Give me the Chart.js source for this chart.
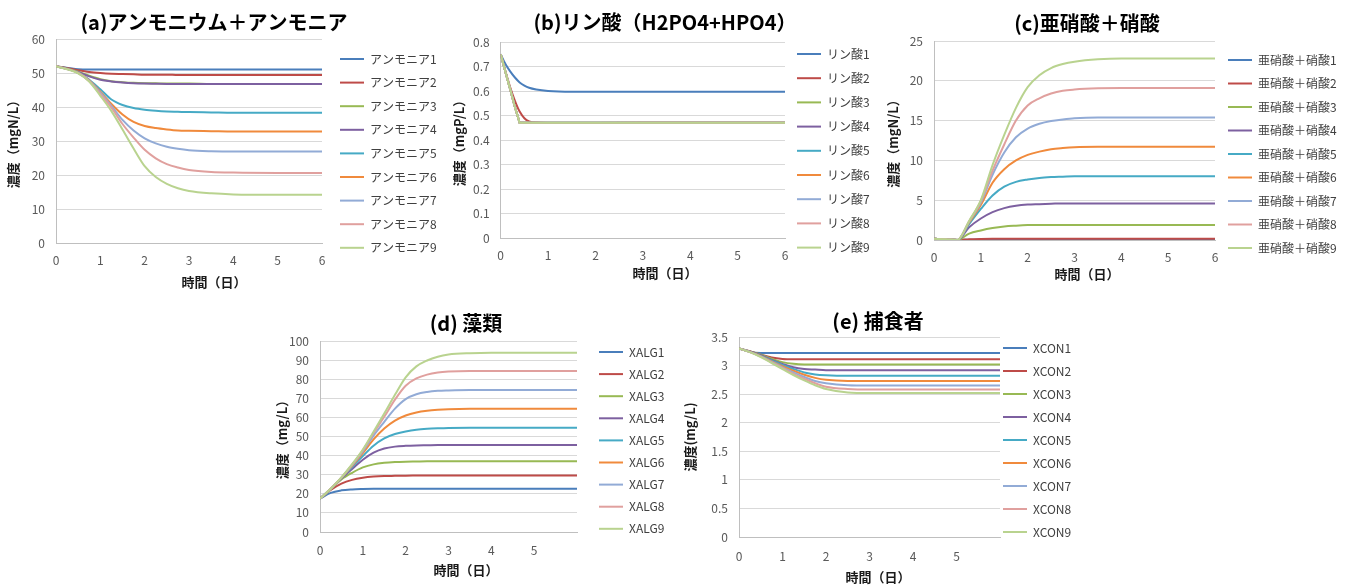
<!DOCTYPE html>
<html lang="ja">
<head>
<meta charset="utf-8">
<title>水質シミュレーション結果</title>
<script src="https://cdn.jsdelivr.net/npm/chart.js@4.4.1/dist/chart.umd.min.js"></script>
<style>
  html, body { margin: 0; padding: 0; background: #fff; }
  body { width: 1350px; height: 585px; position: relative; overflow: hidden; }
  canvas { position: absolute; }
</style>
</head>
<body>
<canvas id="chartA" width="454" height="295" style="left:-13px;top:0px"></canvas>
<canvas id="chartB" width="434" height="295" style="left:445px;top:0px"></canvas>
<canvas id="chartC" width="508" height="295" style="left:833px;top:0px"></canvas>
<canvas id="chartD" width="408" height="285" style="left:262px;top:300px"></canvas>
<canvas id="chartE" width="394" height="285" style="left:681px;top:300px"></canvas>
<script>
// ---------------------------------------------
// データ
// ---------------------------------------------
const xTicksFull  = ['0', '1', '2', '3', '4', '5', '6'];
const xTicksShort = ['0', '1', '2', '3', '4', '5', ''];

// (a) アンモニウム＋アンモニア
const timeA = [0, 0.5, 0.75, 1, 1.25, 1.5, 1.75, 2, 2.25, 2.5, 2.75, 3, 3.5, 4, 5, 6];
const ammoniaLabels = ['アンモニア1', 'アンモニア2', 'アンモニア3', 'アンモニア4', 'アンモニア5',
                       'アンモニア6', 'アンモニア7', 'アンモニア8', 'アンモニア9'];
const ammonia = [
  [52, 51.1, 51.0, 51.0, 51.0, 51.0, 51.0, 51.0, 51.0, 51.0, 51.0, 51.0, 51.0, 51.0, 51.0, 51.0],
  [52, 50.8, 50.3, 50.0, 49.8, 49.7, 49.6, 49.5, 49.5, 49.5, 49.4, 49.4, 49.4, 49.4, 49.4, 49.4],
  [52, 50.4, 49.2, 48.2, 47.6, 47.3, 47.1, 47.0, 46.95, 46.9, 46.9, 46.9, 46.8, 46.8, 46.8, 46.8],
  [52, 50.3, 49.0, 48.0, 47.5, 47.2, 47.0, 46.9, 46.85, 46.8, 46.8, 46.8, 46.8, 46.8, 46.8, 46.8],
  [52, 50.2, 48.0, 45.2, 42.2, 40.6, 39.7, 39.2, 38.9, 38.7, 38.6, 38.5, 38.4, 38.3, 38.3, 38.3],
  [52, 50.1, 47.8, 44.5, 40.9, 37.8, 35.6, 34.4, 33.8, 33.4, 33.1, 33.0, 32.9, 32.8, 32.8, 32.8],
  [52, 50.0, 47.7, 44.2, 40.3, 36.2, 33.1, 30.8, 29.3, 28.3, 27.7, 27.3, 27.0, 26.9, 26.9, 26.9],
  [52, 50.0, 47.6, 43.8, 39.8, 35.0, 31.0, 27.4, 24.9, 23.2, 22.2, 21.5, 20.9, 20.7, 20.6, 20.6],
  [52, 49.9, 47.5, 43.3, 38.8, 33.4, 27.8, 22.6, 19.4, 17.4, 16.1, 15.3, 14.6, 14.3, 14.2, 14.2]
];
const ammoniaYTicks = ['0', '10', '20', '30', '40', '50', '60'];

// (b) リン酸
const timeB = [0, 0.1, 0.2, 0.3, 0.4, 0.5, 0.6, 0.75, 1, 1.5, 2, 3, 4, 5, 6];
const phosphateLabels = ['リン酸1', 'リン酸2', 'リン酸3', 'リン酸4', 'リン酸5',
                         'リン酸6', 'リン酸7', 'リン酸8', 'リン酸9'];
const phosphate = [
  [0.75, 0.71, 0.68, 0.655, 0.635, 0.622, 0.613, 0.606, 0.600, 0.597, 0.597, 0.597, 0.597, 0.597, 0.597],
  [0.75, 0.68, 0.615, 0.560, 0.516, 0.489, 0.476, 0.471, 0.470, 0.470, 0.470, 0.470, 0.470, 0.470, 0.470],
  [0.75, 0.678, 0.607, 0.535, 0.470, 0.470, 0.470, 0.470, 0.470, 0.470, 0.470, 0.470, 0.470, 0.470, 0.470],
  [0.75, 0.678, 0.607, 0.535, 0.470, 0.470, 0.470, 0.470, 0.469, 0.469, 0.469, 0.470, 0.470, 0.470, 0.470],
  [0.75, 0.678, 0.607, 0.535, 0.470, 0.470, 0.470, 0.470, 0.470, 0.470, 0.470, 0.470, 0.470, 0.470, 0.470],
  [0.75, 0.678, 0.607, 0.535, 0.470, 0.470, 0.470, 0.470, 0.469, 0.469, 0.469, 0.470, 0.470, 0.470, 0.470],
  [0.75, 0.678, 0.607, 0.535, 0.470, 0.470, 0.470, 0.470, 0.470, 0.470, 0.470, 0.470, 0.470, 0.470, 0.470],
  [0.75, 0.678, 0.607, 0.535, 0.470, 0.470, 0.470, 0.470, 0.470, 0.470, 0.470, 0.470, 0.470, 0.470, 0.470],
  [0.75, 0.678, 0.607, 0.535, 0.470, 0.470, 0.470, 0.470, 0.470, 0.470, 0.470, 0.470, 0.470, 0.470, 0.470]
];
const phosphateYTicks = ['0', '0.1', '0.2', '0.3', '0.4', '0.5', '0.6', '0.7', '0.8'];

// (c) 亜硝酸＋硝酸
const timeC = [0, 0.25, 0.5, 0.75, 1, 1.25, 1.5, 1.75, 2, 2.25, 2.5, 2.75, 3, 3.5, 4, 5, 6];
const nitrateLabels = ['亜硝酸＋硝酸1', '亜硝酸＋硝酸2', '亜硝酸＋硝酸3', '亜硝酸＋硝酸4', '亜硝酸＋硝酸5',
                       '亜硝酸＋硝酸6', '亜硝酸＋硝酸7', '亜硝酸＋硝酸8', '亜硝酸＋硝酸9'];
const nitrate = [
  [0.15, 0.1, 0, 0.03, 0.05, 0.05, 0.05, 0.05, 0.05, 0.05, 0.05, 0.05, 0.05, 0.05, 0.05, 0.05, 0.05],
  [0.15, 0.1, 0, 0.10, 0.14, 0.15, 0.15, 0.15, 0.15, 0.15, 0.15, 0.15, 0.15, 0.15, 0.15, 0.15, 0.15],
  [0.15, 0.1, 0, 0.8, 1.2, 1.5, 1.7, 1.8, 1.87, 1.89, 1.9, 1.9, 1.9, 1.9, 1.9, 1.9, 1.9],
  [0.15, 0.1, 0, 1.6, 2.7, 3.5, 4.0, 4.3, 4.45, 4.5, 4.55, 4.6, 4.6, 4.6, 4.6, 4.6, 4.6],
  [0.15, 0.1, 0, 2.0, 3.9, 5.6, 6.7, 7.3, 7.6, 7.8, 7.9, 7.95, 8.0, 8.0, 8.0, 8.0, 8.0],
  [0.15, 0.1, 0, 2.2, 4.4, 7.2, 8.9, 10.0, 10.7, 11.1, 11.4, 11.55, 11.65, 11.7, 11.7, 11.7, 11.7],
  [0.15, 0.1, 0, 2.3, 4.7, 8.2, 11.0, 12.9, 14.0, 14.6, 14.95, 15.15, 15.3, 15.4, 15.4, 15.4, 15.4],
  [0.15, 0.1, 0, 2.35, 4.9, 8.7, 12.0, 15.0, 16.9, 17.8, 18.4, 18.75, 18.9, 19.05, 19.1, 19.1, 19.1],
  [0.15, 0.1, 0, 2.4, 5.0, 9.4, 13.2, 16.6, 19.2, 20.7, 21.6, 22.1, 22.4, 22.7, 22.8, 22.8, 22.8]
];
const nitrateYTicks = ['0', '5', '10', '15', '20', '25'];

// (d) 藻類
const timeD = [0, 0.25, 0.5, 0.75, 1, 1.25, 1.5, 1.75, 2, 2.25, 2.5, 2.75, 3, 3.5, 4, 5, 6];
const algaeLabels = ['XALG1', 'XALG2', 'XALG3', 'XALG4', 'XALG5', 'XALG6', 'XALG7', 'XALG8', 'XALG9'];
const algae = [
  [17.5, 20.5, 21.8, 22.3, 22.5, 22.6, 22.6, 22.6, 22.6, 22.6, 22.6, 22.6, 22.6, 22.6, 22.6, 22.6, 22.6],
  [17.5, 22.0, 25.3, 27.3, 28.4, 29.0, 29.3, 29.4, 29.5, 29.55, 29.6, 29.6, 29.6, 29.6, 29.6, 29.6, 29.6],
  [17.5, 22.4, 27.5, 31.0, 33.8, 35.4, 36.2, 36.6, 36.8, 36.9, 37.0, 37.05, 37.1, 37.1, 37.1, 37.1, 37.1],
  [17.5, 22.5, 28.0, 33.0, 37.8, 41.5, 43.7, 44.7, 45.1, 45.3, 45.4, 45.5, 45.5, 45.5, 45.5, 45.5, 45.5],
  [17.5, 22.6, 28.3, 34.0, 39.8, 45.2, 49.0, 51.3, 52.6, 53.5, 54.0, 54.3, 54.5, 54.6, 54.6, 54.6, 54.6],
  [17.5, 22.6, 28.4, 34.6, 41.3, 48.5, 54.2, 58.3, 61.0, 62.6, 63.5, 64.0, 64.3, 64.5, 64.5, 64.5, 64.5],
  [17.5, 22.6, 28.5, 35.0, 42.2, 50.5, 57.7, 64.6, 69.6, 72.1, 73.3, 73.9, 74.1, 74.3, 74.3, 74.3, 74.3],
  [17.5, 22.6, 28.5, 35.3, 42.8, 51.8, 60.3, 69.3, 76.6, 80.4, 82.4, 83.5, 84.0, 84.3, 84.3, 84.3, 84.3],
  [17.5, 22.6, 28.6, 35.5, 43.2, 52.5, 62.0, 71.8, 81.0, 86.7, 89.8, 91.8, 92.9, 93.6, 93.8, 93.8, 93.8]
];
const algaeYTicks = ['0', '10', '20', '30', '40', '50', '60', '70', '80', '90', '100'];

// (e) 捕食者
const timeE = [0, 0.25, 0.5, 0.75, 1, 1.25, 1.5, 1.75, 2, 2.5, 3, 4, 5, 6];
const consumerLabels = ['XCON1', 'XCON2', 'XCON3', 'XCON4', 'XCON5', 'XCON6', 'XCON7', 'XCON8', 'XCON9'];
const consumer = [
  [3.3, 3.24, 3.22, 3.22, 3.22, 3.22, 3.22, 3.22, 3.22, 3.22, 3.22, 3.22, 3.22, 3.22],
  [3.3, 3.25, 3.19, 3.14, 3.115, 3.11, 3.11, 3.11, 3.11, 3.11, 3.11, 3.11, 3.11, 3.11],
  [3.3, 3.245, 3.19, 3.12, 3.06, 3.03, 3.02, 3.02, 3.02, 3.02, 3.02, 3.02, 3.02, 3.02],
  [3.3, 3.245, 3.18, 3.10, 3.03, 2.97, 2.94, 2.93, 2.92, 2.92, 2.92, 2.92, 2.92, 2.92],
  [3.3, 3.24, 3.17, 3.09, 3.01, 2.94, 2.88, 2.845, 2.83, 2.82, 2.82, 2.82, 2.82, 2.82],
  [3.3, 3.24, 3.165, 3.075, 2.99, 2.91, 2.84, 2.785, 2.75, 2.73, 2.73, 2.73, 2.73, 2.73],
  [3.3, 3.24, 3.16, 3.065, 2.97, 2.88, 2.80, 2.73, 2.69, 2.655, 2.65, 2.65, 2.65, 2.65],
  [3.3, 3.235, 3.155, 3.055, 2.955, 2.855, 2.77, 2.69, 2.63, 2.59, 2.58, 2.58, 2.58, 2.58],
  [3.3, 3.235, 3.15, 3.045, 2.94, 2.835, 2.74, 2.655, 2.59, 2.53, 2.52, 2.52, 2.52, 2.52]
];
const consumerYTicks = ['0', '0.5', '1', '1.5', '2', '2.5', '3', '3.5'];

// ---------------------------------------------
// スタイル
// ---------------------------------------------
const seriesColors = ['#4a7ebb', '#be4b48', '#98b954', '#7d60a0', '#46aac5',
                      '#f08a3c', '#92abd6', '#e0a09e', '#b9d38f'];
const gridColor = '#d9d9d9';
const axisColor = '#bfbfbf';
const tickColor = '#595959';
const titleColor = '#1a1a1a';

Chart.defaults.font.family = "'Noto Sans CJK JP', 'Noto Sans', sans-serif";

function makeChart(id, cfg) {
  const g = cfg.geom;
  const datasets = cfg.series.map(function(vals, i) {
    const straight = cfg.straight && cfg.straight.indexOf(i) >= 0;
    return {
      label: cfg.labels[i],
      data: vals.map(function(v, j) { return { x: cfg.times[j], y: v }; }),
      borderColor: seriesColors[i],
      backgroundColor: seriesColors[i],
      borderWidth: 2,
      pointRadius: 0,
      tension: 0,
      cubicInterpolationMode: straight ? 'default' : 'monotone',
      order: cfg.series.length - i   // 後の系列を上に描く
    };
  });

  return new Chart(document.getElementById(id), {
    type: 'line',
    data: { datasets },
    options: {
      responsive: false,
      animation: false,
      events: [],
      layout: { padding: { left: g.padL, right: 0, top: 0, bottom: 0 } },
      plugins: {
        title: {
          display: true,
          text: cfg.title,
          color: '#000',
          font: { size: 20, weight: 'bold' },
          padding: { top: g.titleTop, bottom: g.titleBottom }
        },
        subtitle: {
          display: true,
          position: 'bottom',
          text: '時間（日）',
          color: titleColor,
          font: { size: 13, weight: 'bold' },
          padding: { top: 0, bottom: g.xTitleBottom }
        },
        legend: {
          position: 'right',
          align: 'start',
          maxWidth: g.legendW,
          title: { display: true, text: '', font: { size: 1, lineHeight: '0px' }, padding: { top: g.legendTop, bottom: 0 } },
          labels: {
            usePointStyle: true,
            pointStyle: 'line',
            pointStyleWidth: 24,
            padding: g.legendPad,
            color: '#404040',
            font: { size: 12, lineHeight: g.legendGap + 'px' },
            sort: function(a, b) { return a.datasetIndex - b.datasetIndex; },
            generateLabels: function(chart) {
              return Chart.defaults.plugins.legend.labels.generateLabels(chart).map(function(item) {
                item.text = [item.text];
                return item;
              });
            }
          }
        },
        tooltip: { enabled: false }
      },
      scales: {
        x: {
          type: 'linear',
          min: 0,
          max: 6,
          afterFit: function(s) { s.height = g.xH; },
          grid: { display: false, drawTicks: false },
          border: { color: axisColor },
          ticks: {
            stepSize: 1,
            padding: g.xTickPad,
            maxRotation: 0,
            autoSkip: false,
            color: tickColor,
            font: { size: 12 },
            callback: function(v, i) { return cfg.xTicks[i] !== undefined ? cfg.xTicks[i] : v; }
          }
        },
        y: {
          min: cfg.yMin,
          max: cfg.yMax,
          afterFit: function(s) { s.width = g.yW; },
          grid: { color: gridColor, drawTicks: false },
          border: { color: axisColor },
          ticks: {
            stepSize: cfg.yStep,
            padding: 11,
            color: tickColor,
            font: { size: 12 },
            callback: function(v, i) { return cfg.yTicks[i] !== undefined ? cfg.yTicks[i] : v; }
          },
          title: {
            display: true,
            text: cfg.yTitle,
            color: titleColor,
            font: { size: 13, weight: 'bold' },
            padding: { top: g.yTitlePad, bottom: 0 }
          }
        }
      }
    }
  });
}

// =============================================
// (a) アンモニウム＋アンモニア
// =============================================
makeChart('chartA', {
  title: '(a)アンモニウム＋アンモニア',
  yTitle: '濃度（mgN/L）',
  times: timeA, series: ammonia, labels: ammoniaLabels,
  yMin: 0, yMax: 60, yStep: 10, yTicks: ammoniaYTicks, xTicks: xTicksFull,
  geom: { padL: 0, yW: 69, yTitlePad: 18.2, xH: 31.2, legendW: 119, legendPad: 18, legendGap: 5.6, legendTop: 35,
          titleTop: 10, titleBottom: 5, xTitleBottom: 5.2, xTickPad: 10 }
});

// =============================================
// (b) リン酸
// =============================================
makeChart('chartB', {
  title: '(b)リン酸（H2PO4+HPO4）',
  yTitle: '濃度（mgP/L）',
  times: timeB, series: phosphate, labels: phosphateLabels,
  straight: [2, 3, 4, 5, 6, 7, 8],
  yMin: 0, yMax: 0.8, yStep: 0.1, yTicks: phosphateYTicks, xTicks: xTicksFull,
  geom: { padL: 6, yW: 49.7, yTitlePad: 0, xH: 27.2, legendW: 94, legendPad: 12, legendGap: 12.2, legendTop: 36,
          titleTop: 10.7, titleBottom: 7.3, xTitleBottom: 14.2, xTickPad: 10 }
});

// =============================================
// (c) 亜硝酸＋硝酸
// =============================================
makeChart('chartC', {
  title: '(c)亜硝酸＋硝酸',
  yTitle: '濃度（mgN/L）',
  times: timeC, series: nitrate, labels: nitrateLabels,
  yMin: 0, yMax: 25, yStep: 5, yTicks: nitrateYTicks, xTicks: xTicksFull,
  geom: { padL: 0, yW: 101, yTitlePad: 52.2, xH: 26.2, legendW: 126, legendPad: 13, legendGap: 10.5, legendTop: 41,
          titleTop: 11.3, titleBottom: 5.7, xTitleBottom: 13.2, xTickPad: 10 }
});

// =============================================
// (d) 藻類
// =============================================
makeChart('chartD', {
  title: '(d) 藻類',
  yTitle: '濃度（mg/L）',
  times: timeD, series: algae, labels: algaeLabels,
  yMin: 0, yMax: 100, yStep: 10, yTicks: algaeYTicks, xTicks: xTicksShort,
  geom: { padL: 0, yW: 58, yTitlePad: 12.2, xH: 30.2, legendW: 93, legendPad: 22, legendGap: 0.1, legendTop: 24,
          titleTop: 11.3, titleBottom: 5.7, xTitleBottom: 7.2, xTickPad: 11 }
});

// =============================================
// (e) 捕食者
// =============================================
makeChart('chartE', {
  title: '(e) 捕食者',
  yTitle: '濃度(mg/L)',
  times: timeE, series: consumer, labels: consumerLabels,
  yMin: 0, yMax: 3.5, yStep: 0.5, yTicks: consumerYTicks, xTicks: xTicksShort,
  geom: { padL: 0, yW: 58, yTitlePad: 1.2, xH: 32.2, legendW: 75, legendPad: 3, legendGap: 20, legendTop: 39,
          titleTop: 9.7, titleBottom: 3.3, xTitleBottom: 0.2, xTickPad: 12 }
});
</script>
</body>
</html>
